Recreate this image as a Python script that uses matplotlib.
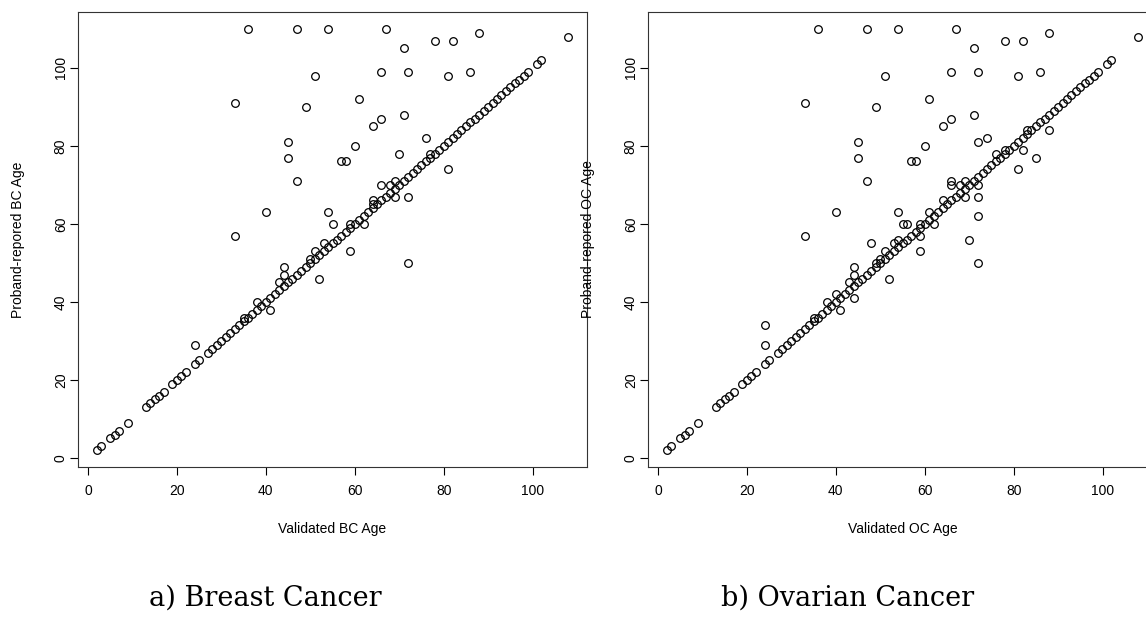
import matplotlib
matplotlib.use("Agg")
import matplotlib.pyplot as plt

# ---------------- data ----------------
# values on the y = x line (same in both panels)
diag_ages = [2, 3, 5, 6, 7, 9, 13, 14, 15, 16, 17, 19, 20, 21, 22, 24, 25,
             27, 28, 29, 30, 31, 32, 33, 34, 35, 36, 37, 38, 39, 40, 41, 42,
             43, 44, 45, 46, 47, 48, 49, 50, 51, 52, 53, 54, 55, 56, 57, 58,
             59, 60, 61, 62, 63, 64, 65, 66, 67, 68, 69, 70, 71, 72, 73, 74,
             75, 76, 77, 78, 79, 80, 81, 82, 83, 84, 85, 86, 87, 88, 89, 90,
             91, 92, 93, 94, 95, 96, 97, 98, 99, 101, 102, 108]

# Breast cancer: off-diagonal points (validated, proband-reported)
bc_off_validated = [24, 33, 35, 38, 41, 43, 44, 44, 50, 51, 52, 53, 59, 72,
                    36, 47, 54, 67, 51, 33, 49, 45, 45, 47, 40, 88, 78, 82,
                    71, 66, 72, 81, 86, 61, 66, 64, 71, 60, 57, 58, 76, 70,
                    81, 66, 68, 69, 69, 72, 64, 64, 54, 55, 59, 62, 77]
bc_off_reported = [29, 57, 36, 40, 38, 45, 47, 49, 51, 53, 46, 55, 53, 50,
                   110, 110, 110, 110, 98, 91, 90, 81, 77, 71, 63, 109, 107, 107,
                   105, 99, 99, 98, 99, 92, 87, 85, 88, 80, 76, 76, 82, 78,
                   74, 70, 70, 71, 67, 67, 66, 65, 63, 60, 60, 60, 78]

# Ovarian cancer: off-diagonal points (validated, proband-reported)
oc_off_validated = [24, 24, 33, 35, 38, 40, 41, 43, 44, 44, 44, 48, 49, 50,
                    51, 52, 53, 54, 59, 59, 70, 72, 36, 47, 54, 67, 51, 33,
                    49, 45, 45, 47, 40, 88, 78, 82, 71, 66, 72, 81, 86, 61,
                    66, 64, 71, 60, 57, 58, 72, 74, 88, 83, 82, 85, 81, 76,
                    78, 66, 66, 68, 69, 72, 69, 72, 72, 64, 54, 61, 55, 56,
                    59, 62]
oc_off_reported = [34, 29, 57, 36, 40, 42, 38, 45, 47, 49, 41, 55, 50, 51,
                   53, 46, 55, 56, 53, 57, 56, 50, 110, 110, 110, 110, 98, 91,
                   90, 81, 77, 71, 63, 109, 107, 107, 105, 99, 99, 98, 99, 92,
                   87, 85, 88, 80, 76, 76, 81, 82, 84, 84, 79, 77, 74, 78,
                   79, 71, 70, 70, 71, 70, 67, 67, 62, 66, 63, 63, 60, 60,
                   60, 60]

ticks = [0, 20, 40, 60, 80, 100]
panels = [
    ("Validated BC Age", "Proband-repored BC Age", bc_off_validated, bc_off_reported,
     "a) Breast Cancer"),
    ("Validated OC Age", "Proband-repored OC Age", oc_off_validated, oc_off_reported,
     "b) Ovarian Cancer"),
]

# ---------------- figure ----------------
W, H = 1146, 627
fig = plt.figure(figsize=(W / 100, H / 100), dpi=100)
plt.rcParams['font.family'] = ['Liberation Sans', 'DejaVu Sans']

ax_left_px = [78, 648]
ax_w_px, ax_top_px, ax_bot_px = 509, 12, 467
caption_x_px = [265, 848]

for i, (xl, yl, xo, yo, cap) in enumerate(panels):
    ax = fig.add_axes([ax_left_px[i] / W, (H - ax_bot_px) / H,
                       ax_w_px / W, (ax_bot_px - ax_top_px) / H])
    ax.plot(diag_ages, diag_ages, linestyle='none', marker='o', ms=5.5,
            mfc='none', mec='black', mew=0.9, clip_on=False)
    ax.plot(xo, yo, linestyle='none', marker='o', ms=5.5,
            mfc='none', mec='black', mew=0.9, clip_on=False)
    ax.set_xlim(-2.24, 112.24)
    ax.set_ylim(-2.32, 114.32)
    ax.set_xticks(ticks)
    ax.set_yticks(ticks)
    ax.set_xticklabels([str(t) for t in ticks])
    ax.set_yticklabels([str(t) for t in ticks], rotation=90, va='center')
    ax.tick_params(axis='both', direction='out', length=5.8, width=0.8,
                   labelsize=10, colors='black')
    ax.tick_params(axis='x', pad=6.5)
    ax.tick_params(axis='y', pad=1.5)
    for s in ax.spines.values():
        s.set_linewidth(0.8)
        s.set_color('#333333')
    ax.set_xlabel(xl, fontsize=10)
    ax.set_ylabel(yl, fontsize=10)
    ax.xaxis.set_label_coords(0.5, (ax_bot_px - 529) / (ax_bot_px - ax_top_px))
    ax.xaxis.label.set_va('center')
    ax.yaxis.set_label_coords((18 - 78) / ax_w_px, 0.5)
    ax.yaxis.label.set_va('center')
    fig.text(caption_x_px[i] / W, 1 - 598 / H, cap, ha='center', va='center',
             fontsize=19.5, family='DejaVu Serif')

fig.savefig("out.png", dpi=100)
